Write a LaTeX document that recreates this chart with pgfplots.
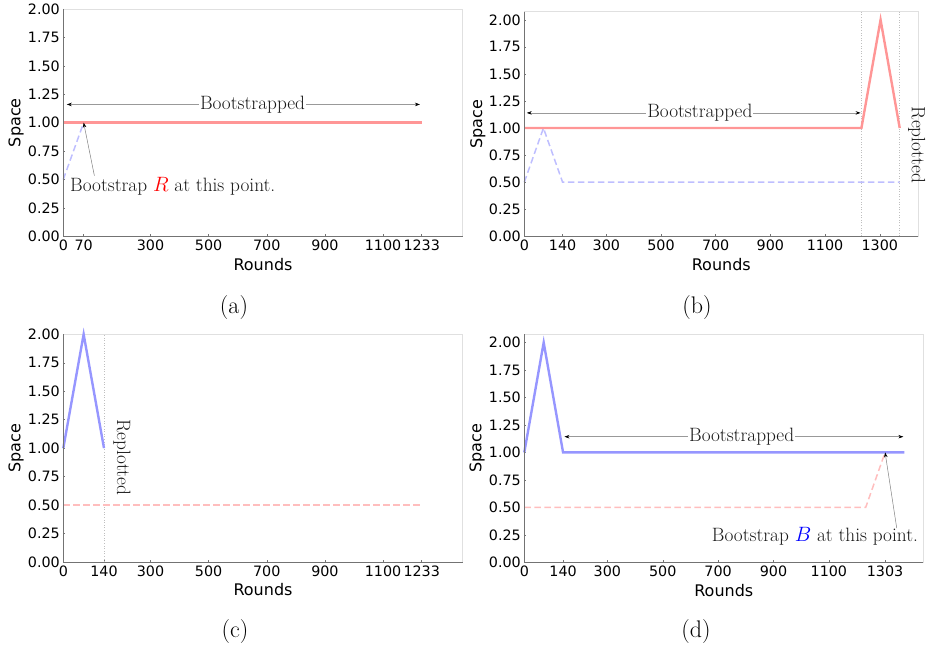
\documentclass[border=0pt]{standalone}
\usepackage{fontspec}
\usepackage{pgfplots}
\pgfplotsset{compat=1.18}
\usetikzlibrary{arrows.meta}
\newfontfamily\dejavu{DejaVu Sans}

\definecolor{redS}{RGB}{255,150,150}
\definecolor{blueS}{RGB}{150,150,255}
\definecolor{redD}{RGB}{255,190,190}
\definecolor{blueD}{RGB}{190,190,255}

\tikzset{
  ann/.style={font=\fontsize{19.3}{20}\selectfont, text=black!90},
  dbl/.style={black!40, line width=0.6pt,
    {Stealth[length=5pt,width=3.5pt,black]}-{Stealth[length=5pt,width=3.5pt,black]}},
  pnt/.style={black!50, line width=0.5pt, -{Stealth[length=5pt,width=3.5pt,black]}},
  subcap/.style={font=\fontsize{24}{25}\selectfont},
  ylab/.style={font=\dejavu\fontsize{16}{16}\selectfont, rotate=90},
}

\pgfplotsset{
  panel/.style={
    scale only axis, clip=false, anchor=south west,
    xmin=0, ymin=0,
    ytick={0,0.25,0.5,0.75,1,1.25,1.5,1.75,2},
    yticklabels={0.00,0.25,0.50,0.75,1.00,1.25,1.50,1.75,2.00},
    tick pos=left, tick align=inside, major tick length=2pt,
    tick style={black!55, line width=0.5pt},
    axis line style={black!12, line width=0.7pt},
    /pgf/number format/assume math mode=true,
    ticklabel style={font=\dejavu\fontsize{14.3}{14.3}\selectfont},
    xlabel={Rounds},
    label style={font=\dejavu\fontsize{16}{16}\selectfont},
    xlabel style={at={(axis description cs:0.5,0)}, anchor=center, yshift=-28pt},
    solidline/.style={line width=2.4pt},
    dashline/.style={line width=1.5pt, dash pattern=on 6.5pt off 3.5pt},
    vline/.style={black!25, line width=0.7pt, dash pattern=on 0.8pt off 1.8pt},
    after end axis/.code={
      \draw[black!55, line width=0.8pt] (rel axis cs:0,1) -- (rel axis cs:0,0) -- (rel axis cs:1,0);
      \node[ylab] at (axis description cs:-0.118,0.5) {Space};
    },
  },
}

\begin{document}
\begin{tikzpicture}
\useasboundingbox (0,0) rectangle (926pt,652pt);

% (a)
\begin{axis}[panel, at={(63.3pt,415.7pt)}, width=399.4pt, height=227.3pt,
  xmax=1374, ymax=2,
  xtick={0,70,300,500,700,900,1100,1233},
  xticklabels={0,70,300,500,700,900,1100,1233}]
\addplot[blueD, dashline] coordinates {(0,0.5) (70,1)};
\addplot[redS, solidline] coordinates {(0,1) (1233,1)};
\draw[dbl] (axis cs:12,1.16) -- (axis cs:1227,1.16);
\node[ann, fill=white, inner sep=1pt] at (axis cs:651,1.16) {Bootstrapped};
\draw[pnt] (axis cs:107,0.533) -- (axis cs:70,1);
\node[ann, anchor=base west, inner sep=0pt] at (axis cs:23,0.392)
  {Bootstrap \textcolor{red}{$R$} at this point.};
\end{axis}

% (b)
\begin{axis}[panel, at={(524.3pt,415.7pt)}, width=394pt, height=224.6pt,
  xmax=1441, ymax=2.075,
  xtick={0,140,300,500,700,900,1100,1300},
  xticklabels={0,140,300,500,700,900,1100,1300}]
\addplot[vline] coordinates {(1233,0) (1233,2.075)};
\addplot[vline] coordinates {(1373,0) (1373,2.075)};
\addplot[blueD, dashline] coordinates {(0,0.5) (70,1) (140,0.5) (1373,0.5)};
\addplot[redS, solidline] coordinates {(0,1) (1233,1) (1303,2) (1373,1)};
\draw[dbl] (axis cs:9,1.14) -- (axis cs:1230,1.14);
\node[ann, fill=white, inner sep=1pt] at (axis cs:642,1.14) {Bootstrapped};
\node[ann, rotate=-90, inner sep=0pt] at (axis cs:1435,0.844) {Replotted};
\end{axis}

% (c)
\begin{axis}[panel, at={(63.3pt,90pt)}, width=399.4pt, height=227.7pt,
  xmax=1374, ymax=2,
  xtick={0,140,300,500,700,900,1100,1233},
  xticklabels={0,140,300,500,700,900,1100,1233}]
\addplot[vline] coordinates {(140,0) (140,2)};
\addplot[redD, dashline] coordinates {(0,0.5) (1233,0.5)};
\addplot[blueS, solidline] coordinates {(0,1) (70,2) (140,1)};
\node[ann, rotate=-90] at (axis cs:202,0.918) {Replotted};
\end{axis}

% (d)
\begin{axis}[panel, at={(524.3pt,89.7pt)}, width=399pt, height=228pt,
  xmax=1441, ymax=2.075,
  xtick={0,140,300,500,700,900,1100,1303},
  xticklabels={0,140,300,500,700,900,1100,1303}]
\addplot[redD, dashline] coordinates {(0,0.5) (1233,0.5) (1303,1)};
\addplot[blueS, solidline] coordinates {(0,1) (70,2) (140,1) (1373,1)};
\draw[dbl] (axis cs:145,1.143) -- (axis cs:1369,1.143);
\node[ann, fill=white, inner sep=1pt] at (axis cs:785,1.143) {Bootstrapped};
\draw[pnt] (axis cs:1345,0.312) -- (axis cs:1303,1);
\node[ann, anchor=base west, inner sep=0pt] at (axis cs:677,0.187)
  {Bootstrap \textcolor{blue}{$B$} at this point.};
\end{axis}

\node[subcap] at (234pt,344pt) {(a)};
\node[subcap] at (697pt,344pt) {(b)};
\node[subcap] at (235pt,20.3pt) {(c)};
\node[subcap] at (696pt,20.3pt) {(d)};
\end{tikzpicture}
\end{document}
